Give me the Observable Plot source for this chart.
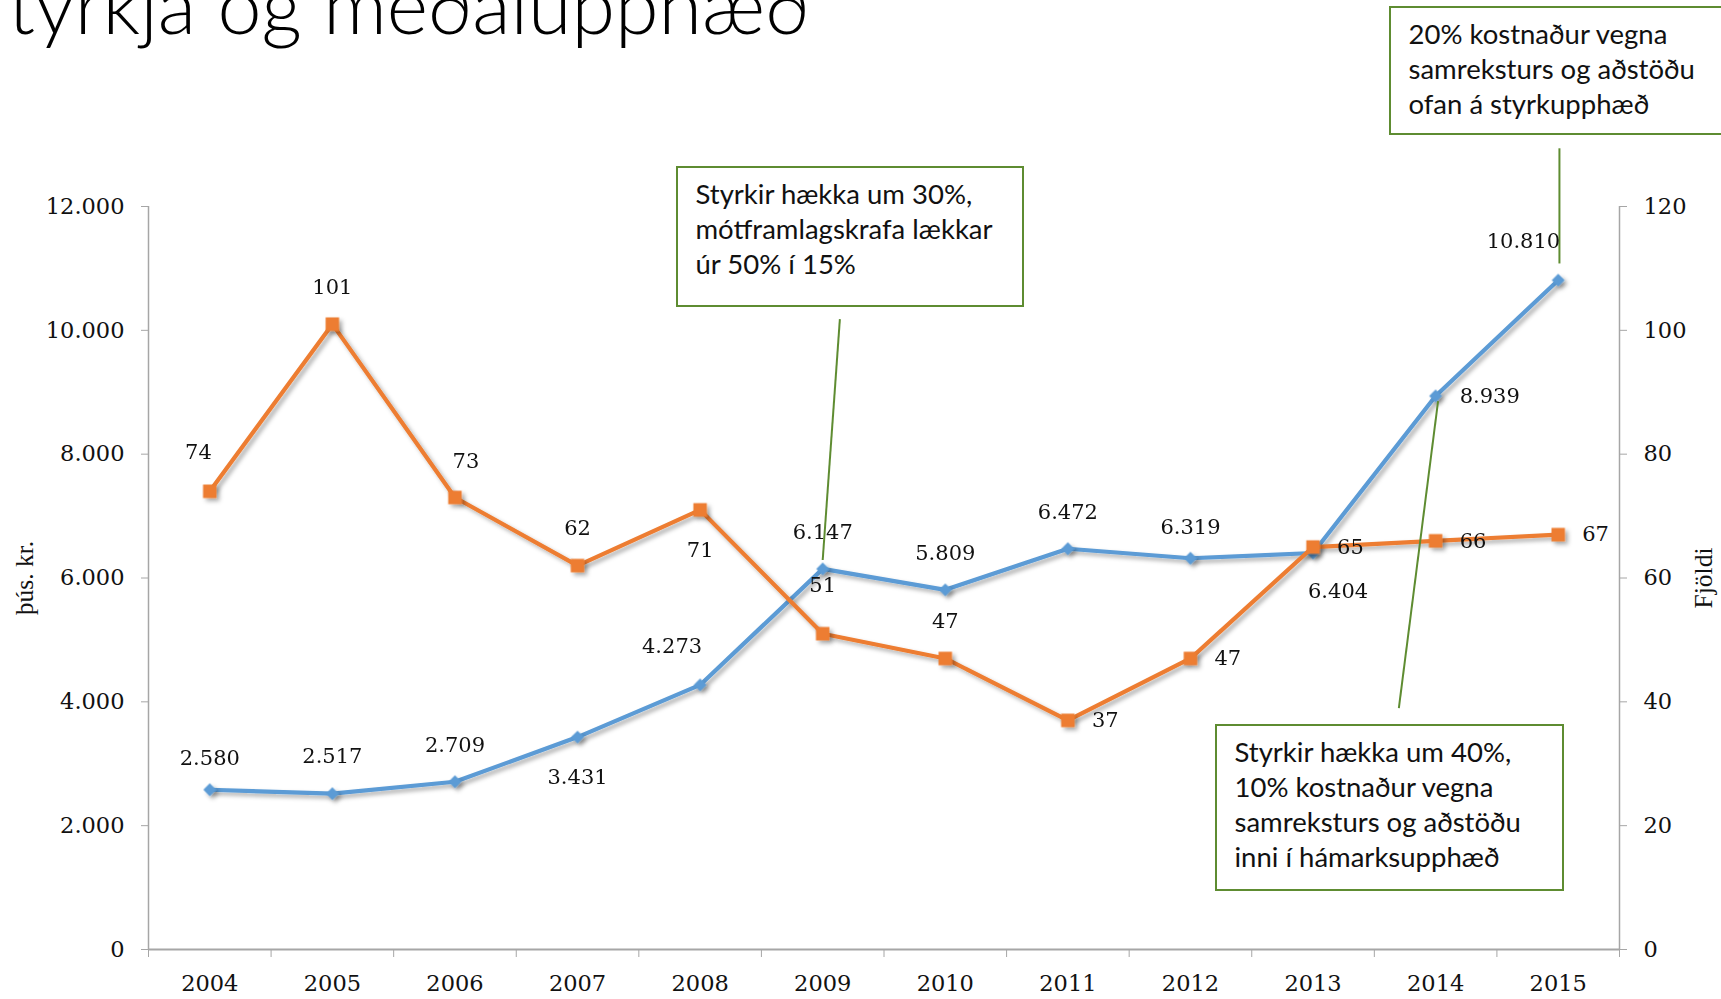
<!DOCTYPE html>
<html><head><meta charset="utf-8">
<script src="https://cdn.jsdelivr.net/npm/d3@7"></script>
<script src="https://cdn.jsdelivr.net/npm/@observablehq/plot@0.6"></script>
<style>
html,body{margin:0;padding:0;background:#fff;overflow:hidden;}
#wrap{position:relative;width:1721px;height:999px;overflow:hidden;background:#fff;}
#chart{position:absolute;left:0;top:0;}
#title{position:absolute;left:8px;top:-36px;font-family:Lato;font-weight:300;font-size:79px;line-height:1;white-space:nowrap;color:#000;z-index:2;}
.note{position:absolute;box-sizing:border-box;border:2.5px solid #5E8C31;background:#fff;font-family:Lato;font-size:27.5px;line-height:35px;color:#111;padding:8px 0 0 17.5px;white-space:nowrap;z-index:2;}
</style></head><body>
<div id="wrap"><div id="title"></div><div id="chart"></div></div>
<script>
// ---- data ----
const titleText = "tyrkja og meðalupphæð";
const years = [2004, 2005, 2006, 2007, 2008, 2009, 2010, 2011, 2012, 2013, 2014, 2015];
const amount = [2580, 2517, 2709, 3431, 4273, 6147, 5809, 6472, 6319, 6404, 8939, 10810]; // þús. kr.
const count = [74, 101, 73, 62, 71, 51, 47, 37, 47, 65, 66, 67]; // Fjöldi
const amountLabelPos = ["aboveNear","above","above","below","aboveLeft","above","above","above","aboveNear","belowRight","right","aboveLeft"];
const countLabelPos = ["aboveLeft","above","aboveRight","above","below","aboveFar","above","right","right","right","right","right"];
const leftTicks = [0, 2000, 4000, 6000, 8000, 10000, 12000];
const rightTicks = [0, 20, 40, 60, 80, 100, 120];
const leftTitle = "þús. kr.";
const rightTitle = "Fjöldi";
const notes = [
  ["Styrkir hækka um 30%,", "mótframlagskrafa lækkar", "úr 50% í 15%"],
  ["20% kostnaður vegna", "samreksturs og aðstöðu", "ofan á styrkupphæð"],
  ["Styrkir hækka um 40%,", "10% kostnaður vegna", "samreksturs og aðstöðu", "inni í hámarksupphæð"]
];
// leader lines (data coordinates: year, þús. kr.)
const leaderFromX = [2009.14, 2015.01, 2013.70];
const leaderFromY = [10180, 12940, 3898];
const leaderToX = [2009.0, 2015.01, 2014.02];
const leaderToY = [6290, 11080, 8856];

// ---- build ----
document.getElementById("title").textContent = titleText;
const notePos = [
  {left: 676, top: 166, width: 348, height: 141},
  {left: 1389, top: 6, width: 360, height: 129},
  {left: 1215, top: 724, width: 349, height: 167}
];
const wrap = document.getElementById("wrap");
notes.forEach((lines, i) => {
  const d = document.createElement("div");
  d.className = "note";
  const p = notePos[i];
  Object.assign(d.style, {left: p.left + "px", top: p.top + "px", width: p.width + "px", height: p.height + "px"});
  d.innerHTML = lines.map(l => `<div>${l}</div>`).join("");
  wrap.appendChild(d);
});

const ratio = 12000 / 120;
const loc = d3.formatLocale({decimal: ",", thousands: ".", grouping: [3], currency: ["", ""]});
const fmt = loc.format(",d");

const amountRows = years.map((y, i) => ({year: y, v: amount[i], label: fmt(amount[i]), pos: amountLabelPos[i]}));
const countRows = years.map((y, i) => ({year: y, v: count[i] * ratio, label: String(count[i]), pos: countLabelPos[i]}));
const links = leaderFromX.map((x, i) => ({x1: x, y1: leaderFromY[i], x2: leaderToX[i], y2: leaderToY[i]}));

const placements = {
  above: {dx: 0, dy: -37, textAnchor: "middle"},
  aboveNear: {dx: 0, dy: -31, textAnchor: "middle"},
  aboveFar: {dx: 0, dy: -48, textAnchor: "middle"},
  below: {dx: 0, dy: 40, textAnchor: "middle"},
  aboveLeft: {dx: 2, dy: -39, textAnchor: "end"},
  aboveRight: {dx: 11, dy: -36, textAnchor: "middle"},
  belowRight: {dx: 25, dy: 38, textAnchor: "middle"},
  right: {dx: 24, dy: 0, textAnchor: "start"}
};
function labelMarks(rows) {
  return Object.entries(placements).map(([k, o]) =>
    Plot.text(rows.filter(r => r.pos === k), {x: "year", y: "v", text: "label", ...o,
      fontFamily: "DejaVu Serif", fontSize: 21, fill: "#111"}));
}

const axisColor = "#A6A6A6";
const boundaries = d3.range(years[0] - 0.5, years[years.length - 1] + 1, 1);

const chart = Plot.plot({
  width: 1721, height: 999,
  marginLeft: 148, marginRight: 102, marginTop: 206, marginBottom: 50,
  style: {fontFamily: "DejaVu Serif", fontSize: "21px", background: "transparent", overflow: "visible", color: "#111"},
  x: {type: "linear", domain: [years[0] - 0.5, years[years.length - 1] + 0.5]},
  y: {domain: [0, 12000]},
  marks: [
    Plot.ruleX([years[0] - 0.5], {stroke: axisColor, strokeWidth: 1.5}),
    Plot.ruleX([years[years.length - 1] + 0.5], {stroke: axisColor, strokeWidth: 1.5}),
    Plot.axisY(leftTicks, {anchor: "left", tickSize: 7, tickPadding: 17, tickFormat: fmt, stroke: axisColor, fontSize: 22.5, label: null}),
    Plot.axisY(rightTicks.map(d => d * ratio), {anchor: "right", tickSize: 7, tickPadding: 17, tickFormat: d => String(d / ratio), stroke: axisColor, fontSize: 22.5, label: null}),
    Plot.axisX(boundaries, {tickSize: 8, tickFormat: () => "", stroke: axisColor, label: null}),
    Plot.axisX(years, {tickSize: 0, tickPadding: 26, tickFormat: d => String(d), fontSize: 22.5, label: null}),
    Plot.ruleY([0], {stroke: axisColor, strokeWidth: 2}),
    Plot.text([leftTitle], {text: d => d, frameAnchor: "left", textAnchor: "middle", dx: -124, rotate: -90, fontFamily: "Liberation Serif", fontSize: 25.5, fill: "#111"}),
    Plot.text([rightTitle], {text: d => d, frameAnchor: "right", textAnchor: "middle", dx: 84, rotate: -90, fontFamily: "Liberation Serif", fontSize: 25.5, fill: "#111"}),
    Plot.line(amountRows, {x: "year", y: "v", stroke: "#5B9BD5", strokeWidth: 4.2}),
    Plot.dot(amountRows, {x: "year", y: "v", symbol: "diamond2", r: 5.8, fill: "#5B9BD5", stroke: "none"}),
    Plot.line(countRows, {x: "year", y: "v", stroke: "#ED7D31", strokeWidth: 4.2}),
    Plot.dot(countRows, {x: "year", y: "v", symbol: "square", r: 7.6, fill: "#ED7D31", stroke: "none"}),
    Plot.link(links, {x1: "x1", y1: "y1", x2: "x2", y2: "y2", stroke: "#5E8C31", strokeWidth: 2}),
    ...labelMarks(amountRows),
    ...labelMarks(countRows)
  ]
});
document.getElementById("chart").appendChild(chart);

// soft drop shadow on series, as in the original
const svg = d3.select(chart);
const defs = svg.insert("defs", ":first-child");
const f = defs.append("filter").attr("id", "shadow").attr("x", "-10%").attr("y", "-10%").attr("width", "130%").attr("height", "130%");
f.append("feDropShadow").attr("dx", 3).attr("dy", 3).attr("stdDeviation", 2.2).attr("flood-color", "#000").attr("flood-opacity", 0.32);
svg.selectAll('g[aria-label="line"], g[aria-label="dot"]').attr("filter", "url(#shadow)");
</script>
</body></html>
